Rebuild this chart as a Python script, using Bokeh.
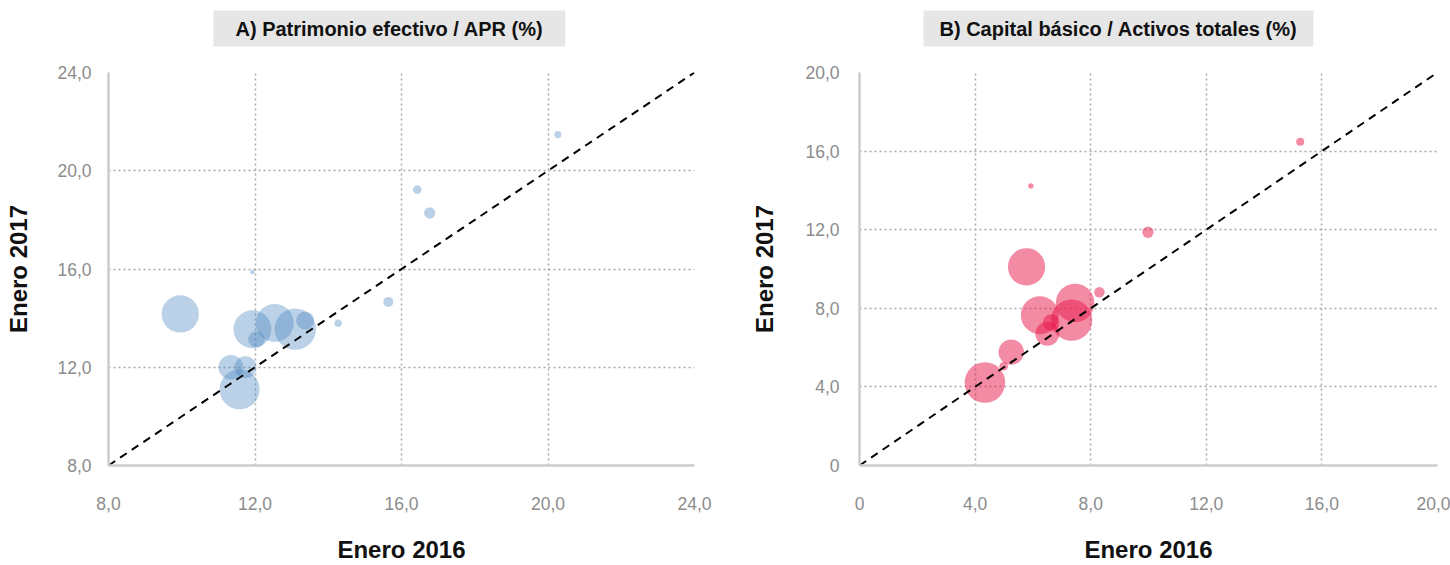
from bokeh.plotting import figure
from bokeh.layouts import row
from bokeh.models import Range1d, FixedTicker, CustomJSTickFormatter, Title, ColumnDataSource
from bokeh.embed import file_html
from bokeh.resources import INLINE
import numpy as np

# ---------------- data ----------------
# A) Patrimonio efectivo / APR (%)
a_2016 = [16.43, 16.77, 11.93, 9.96, 15.64, 14.27, 11.93, 12.54, 13.10, 13.37, 12.04, 11.34, 11.74, 11.58, 20.27]
a_2017 = [19.23, 18.28, 15.88, 14.17, 14.66, 13.79, 13.55, 13.80, 13.55, 13.90, 13.14, 12.00, 12.00, 11.10, 21.47]
a_peso = [4.6, 8.1, 1.3, 87.0, 6.3, 3.4, 90.0, 90.0, 107.0, 20.3, 17.2, 37.8, 30.3, 100.0, 3.1]

# B) Capital básico / Activos totales (%)
b_2016 = [5.93, 9.98, 5.78, 8.30, 7.46, 6.24, 7.34, 6.63, 6.50, 5.25, 4.99, 4.34, 15.25]
b_2017 = [14.23, 11.87, 10.11, 8.82, 8.27, 7.65, 7.40, 7.27, 6.71, 5.77, 5.05, 4.22, 16.48]
b_peso = [1.8, 8.1, 87.0, 7.0, 93.0, 90.0, 107.0, 17.2, 36.0, 40.3, 4.6, 103.0, 4.0]

a_ticks = [8, 12, 16, 20, 24]
b_ticks = [0, 4, 8, 12, 16, 20]

titulo_a = "A) Patrimonio efectivo / APR (%)"
titulo_b = "B) Capital básico / Activos totales (%)"
eje_x = "Enero 2016"
eje_y = "Enero 2017"

FONT = "Liberation Sans"
fmt = CustomJSTickFormatter(code="return tick == 0 ? '0' : tick.toFixed(1).replace('.', ',');")


def make(xs, ys, ws, ticks, title, color, alpha, width, mb_left, mb_right,
         title_offset, pad_h, ylab_standoff, ytick_standoff):
    lo, hi = ticks[0], ticks[-1]
    p = figure(width=width, height=565, output_backend="svg", toolbar_location=None,
               x_range=Range1d(lo, hi), y_range=Range1d(lo, hi),
               min_border_left=mb_left, min_border_right=mb_right,
               min_border_top=72, min_border_bottom=100)
    p.outline_line_color = None
    p.title = Title(text=title, align="left", offset=title_offset, vertical_align="bottom",
                    text_font=FONT, text_font_size="20px", text_font_style="bold",
                    text_color="#111111", background_fill_color="#e6e6e6",
                    padding=dict(left=pad_h, right=pad_h, top=7, bottom=7), standoff=0)
    # empty spacer between the title box and the plot frame
    p.add_layout(Title(text=" ", text_font_size="1px", standoff=23), "above")
    for ax in (p.xaxis[0], p.yaxis[0]):
        ax.ticker = FixedTicker(ticks=ticks)
        ax.formatter = fmt
        ax.major_tick_line_color = None
        ax.minor_tick_line_color = None
        ax.major_tick_out = 0
        ax.major_tick_in = 0
        ax.minor_tick_out = 0
        ax.minor_tick_in = 0
        ax.axis_line_color = "#cccccc"
        ax.axis_line_width = 2.5
        ax.major_label_text_font = FONT
        ax.major_label_text_font_size = "17.5px"
        ax.major_label_text_color = "#8c8c8c"
        ax.axis_label_text_font = FONT
        ax.axis_label_text_font_size = "24px"
        ax.axis_label_text_font_style = "bold"
        ax.axis_label_text_color = "#111111"
    p.xaxis.axis_label = eje_x
    p.yaxis.axis_label = eje_y
    p.xaxis.major_label_standoff = 31
    p.xaxis.axis_label_standoff = 23
    p.yaxis.major_label_standoff = ytick_standoff
    p.yaxis.axis_label_standoff = ylab_standoff
    for g in (p.xgrid[0], p.ygrid[0]):
        g.ticker = FixedTicker(ticks=ticks)
        g.grid_line_color = "#a8a8a8"
        g.grid_line_dash = "2 3"
        g.grid_line_width = 1.5

    sizes = [4.0 * np.sqrt(w) for w in ws]
    src = ColumnDataSource(dict(x=xs, y=ys, s=sizes))
    p.scatter("x", "y", size="s", source=src, fill_color=color, fill_alpha=alpha, line_color=None)
    p.line([lo, hi], [lo, hi], line_color="black", line_width=2, line_dash="8 6")
    return p


pa = make(a_2016, a_2017, a_peso, a_ticks, titulo_a, "#4682be", 0.37, 728, 108, 34, 105, 22, 22, 17)
pb = make(b_2016, b_2017, b_peso, b_ticks, titulo_b, "#e8174a", 0.5, 722, 131, 13, 64, 16, 24, 20)

layout = row(pa, pb)
open("out.html", "w").write(file_html(layout, INLINE))
